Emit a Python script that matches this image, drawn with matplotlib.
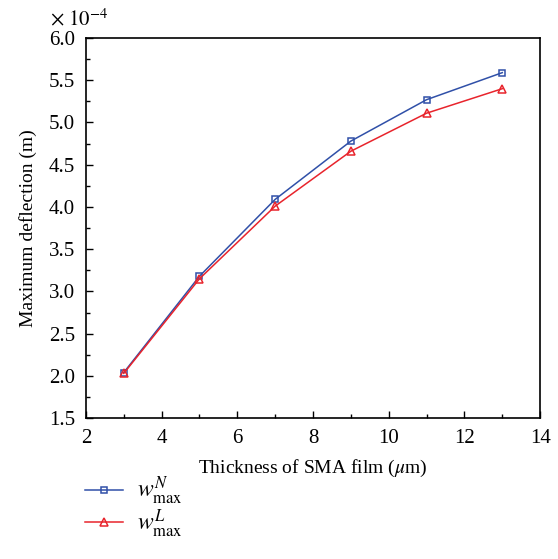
import matplotlib
matplotlib.use("Agg")
import matplotlib.pyplot as plt
from matplotlib.ticker import MultipleLocator

plt.rcParams['font.family'] = ['Liberation Serif', 'DejaVu Serif']
plt.rcParams['mathtext.fontset'] = 'stix'

thickness = [3, 5, 7, 9, 11, 13]
w_nonlinear = [2.04, 3.18, 4.09, 4.78, 5.27, 5.59]
w_linear = [2.03, 3.15, 4.01, 4.66, 5.11, 5.40]

fig = plt.figure(figsize=(5.58, 5.59), dpi=100)
ax = fig.add_axes([0.154, 0.252, 0.814, 0.680])

ax.plot(thickness, w_nonlinear, color='#3050a8', lw=1.1, marker='s', ms=5,
        mfc='none', mec='#3050a8', mew=1.1, label=r'$w_{\mathrm{max}}^{N}$')
ax.plot(thickness, w_linear, color='#e8242c', lw=1.1, marker='^', ms=6,
        mfc='none', mec='#e8242c', mew=1.1, label=r'$w_{\mathrm{max}}^{L}$')

ax.set_xlim(2, 14)
ax.set_ylim(1.5, 6.0)
ax.xaxis.set_major_locator(MultipleLocator(2))
ax.xaxis.set_minor_locator(MultipleLocator(1))
ax.yaxis.set_major_locator(MultipleLocator(0.5))
ax.yaxis.set_minor_locator(MultipleLocator(0.25))
ax.yaxis.set_major_formatter(matplotlib.ticker.FormatStrFormatter('%.1f'))
ax.tick_params(which='both', direction='in', top=False, right=False, labelsize=15)
ax.tick_params(which='major', length=5, width=1, pad=8)
ax.tick_params(which='minor', length=3, width=1)
for s in ax.spines.values():
    s.set_linewidth(1.2)

ax.set_xlabel(r'Thickness of SMA film ($\mu$m)', fontsize=14, labelpad=7)
ax.set_ylabel('Maximum deflection (m)', fontsize=14, labelpad=8)
ax.text(-0.08, 1.034, r'$\times\ 10^{-4}$', transform=ax.transAxes,
        fontsize=15, ha='left', va='baseline')

fig.legend(loc='upper left', bbox_to_anchor=(0.115, 0.188), frameon=False,
           fontsize=17, handlelength=1.6, labelspacing=0.0, handletextpad=0.6)

fig.savefig('out.png', dpi=100)
